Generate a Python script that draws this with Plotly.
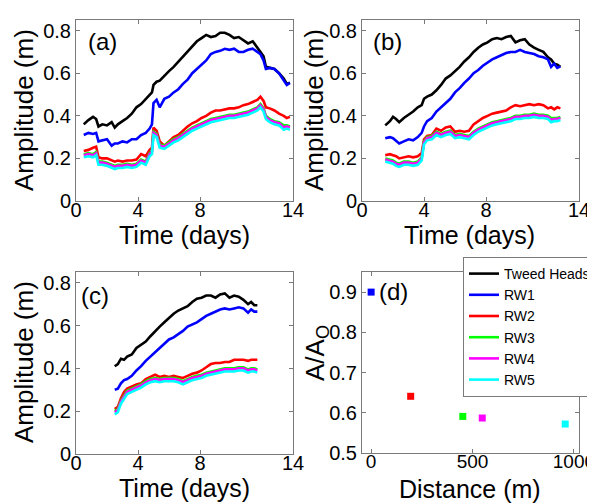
import plotly.graph_objects as go

# ---------------- data ----------------
series_names = ["Tweed Heads", "RW1", "RW2", "RW3", "RW4", "RW5"]
series_colors = ["#000000", "#0000ff", "#ff0000", "#00ff00", "#ff00ff", "#00ffff"]

# panel (a)
days_a = [0.5, 0.8, 1.1, 1.3, 1.45, 1.7, 2.0, 2.3, 2.5, 2.7, 3.0, 3.3, 3.6, 3.9, 4.2, 4.5, 4.75, 4.9, 5.0, 5.2,
          5.4, 5.7, 6.0, 6.3, 6.6, 6.9, 7.2, 7.5, 7.8, 8.1, 8.4, 8.7, 9.0, 9.3, 9.6, 9.9, 10.2, 10.5, 10.8, 11.1,
          11.4, 11.7, 11.9, 12.1, 12.25, 12.5, 12.8, 13.1, 13.4, 13.6, 13.8]
tweed_a = [0.36, 0.38, 0.395, 0.385, 0.35, 0.36, 0.355, 0.37, 0.345, 0.36, 0.375, 0.39, 0.41, 0.44, 0.455, 0.48, 0.50,
           0.51, 0.545, 0.56, 0.565, 0.59, 0.61, 0.63, 0.655, 0.675, 0.70, 0.73, 0.75, 0.765, 0.78, 0.77, 0.775, 0.79,
           0.79, 0.78, 0.765, 0.77, 0.755, 0.74, 0.75, 0.72, 0.70, 0.68, 0.63, 0.625, 0.62, 0.60, 0.575, 0.55, 0.555]
rw1_a = [0.31, 0.32, 0.315, 0.32, 0.28, 0.285, 0.29, 0.26, 0.27, 0.27, 0.28, 0.275, 0.29, 0.29, 0.31, 0.32, 0.34,
         0.36, 0.46, 0.475, 0.44, 0.48, 0.49, 0.51, 0.525, 0.55, 0.57, 0.60, 0.62, 0.64, 0.66, 0.69, 0.70, 0.705,
         0.715, 0.71, 0.715, 0.70, 0.70, 0.71, 0.715, 0.70, 0.69, 0.66, 0.62, 0.625, 0.62, 0.60, 0.57, 0.545, 0.555]
rw2_a = [0.235, 0.24, 0.25, 0.255, 0.205, 0.20, 0.20, 0.19, 0.185, 0.19, 0.185, 0.19, 0.19, 0.195, 0.22, 0.21, 0.24,
         0.25, 0.345, 0.33, 0.28, 0.26, 0.28, 0.30, 0.31, 0.33, 0.35, 0.365, 0.375, 0.39, 0.40, 0.415, 0.425, 0.425,
         0.43, 0.435, 0.435, 0.44, 0.45, 0.455, 0.465, 0.475, 0.49, 0.47, 0.44, 0.435, 0.425, 0.41, 0.40, 0.39, 0.395]
rw3_a = [0.22, 0.225, 0.22, 0.23, 0.185, 0.185, 0.18, 0.17, 0.165, 0.17, 0.17, 0.175, 0.17, 0.175, 0.195, 0.185,
         0.225, 0.235, 0.325, 0.315, 0.265, 0.26, 0.275, 0.29, 0.30, 0.315, 0.33, 0.345, 0.355, 0.365, 0.375, 0.385,
         0.39, 0.395, 0.40, 0.405, 0.405, 0.41, 0.415, 0.42, 0.43, 0.44, 0.455, 0.435, 0.40, 0.385, 0.375, 0.37,
         0.355, 0.355, 0.35]
rw4_a = [0.215, 0.22, 0.215, 0.225, 0.18, 0.18, 0.175, 0.165, 0.16, 0.165, 0.165, 0.17, 0.165, 0.17, 0.19, 0.18,
         0.22, 0.23, 0.32, 0.31, 0.26, 0.255, 0.27, 0.285, 0.295, 0.31, 0.325, 0.34, 0.35, 0.36, 0.37, 0.38, 0.385,
         0.39, 0.395, 0.40, 0.40, 0.405, 0.41, 0.415, 0.425, 0.435, 0.45, 0.43, 0.395, 0.38, 0.37, 0.365, 0.345,
         0.35, 0.345]
rw5_a = [0.205, 0.21, 0.205, 0.215, 0.17, 0.17, 0.165, 0.155, 0.15, 0.155, 0.155, 0.16, 0.155, 0.16, 0.18, 0.17,
         0.21, 0.22, 0.31, 0.30, 0.25, 0.245, 0.26, 0.275, 0.285, 0.30, 0.315, 0.33, 0.34, 0.35, 0.36, 0.37, 0.375,
         0.38, 0.385, 0.39, 0.39, 0.395, 0.40, 0.405, 0.415, 0.425, 0.44, 0.42, 0.385, 0.37, 0.36, 0.355, 0.335,
         0.34, 0.335]

# panel (b)
days_b = [1.5, 1.8, 2.0, 2.2, 2.4, 2.7, 3.0, 3.3, 3.6, 3.85, 4.0, 4.2, 4.5, 4.8, 5.1, 5.4, 5.7, 6.0, 6.3, 6.6, 6.9,
          7.2, 7.5, 7.8, 8.1, 8.4, 8.7, 9.0, 9.3, 9.6, 9.9, 10.2, 10.5, 10.8, 11.1, 11.4, 11.7, 12.0, 12.2, 12.4,
          12.6, 12.8]
tweed_b = [0.355, 0.375, 0.395, 0.385, 0.37, 0.39, 0.405, 0.42, 0.44, 0.45, 0.48, 0.49, 0.50, 0.52, 0.545, 0.575,
           0.59, 0.61, 0.63, 0.655, 0.675, 0.70, 0.72, 0.735, 0.745, 0.76, 0.765, 0.76, 0.77, 0.775, 0.745, 0.755,
           0.76, 0.735, 0.72, 0.71, 0.70, 0.675, 0.665, 0.645, 0.64, 0.63]
rw1_b = [0.295, 0.30, 0.295, 0.28, 0.27, 0.28, 0.29, 0.285, 0.30, 0.32, 0.35, 0.375, 0.39, 0.42, 0.44, 0.46, 0.48,
         0.51, 0.53, 0.555, 0.575, 0.60, 0.615, 0.635, 0.65, 0.665, 0.675, 0.685, 0.695, 0.70, 0.70, 0.71, 0.70,
         0.695, 0.69, 0.68, 0.675, 0.665, 0.63, 0.645, 0.625, 0.632]
rw2_b = [0.215, 0.22, 0.215, 0.21, 0.20, 0.205, 0.21, 0.205, 0.21, 0.225, 0.29, 0.305, 0.31, 0.34, 0.33, 0.345,
         0.35, 0.325, 0.33, 0.325, 0.33, 0.36, 0.375, 0.39, 0.40, 0.41, 0.415, 0.42, 0.425, 0.44, 0.45, 0.445, 0.45,
         0.455, 0.45, 0.455, 0.45, 0.435, 0.44, 0.43, 0.44, 0.435]
rw3_b = [0.20, 0.195, 0.19, 0.18, 0.175, 0.185, 0.185, 0.18, 0.185, 0.205, 0.28, 0.30, 0.305, 0.325, 0.315, 0.325,
         0.33, 0.31, 0.315, 0.31, 0.305, 0.325, 0.34, 0.35, 0.36, 0.37, 0.375, 0.38, 0.385, 0.39, 0.40, 0.40, 0.405,
         0.405, 0.41, 0.405, 0.405, 0.40, 0.39, 0.39, 0.39, 0.395]
rw4_b = [0.195, 0.19, 0.185, 0.175, 0.17, 0.18, 0.18, 0.175, 0.18, 0.20, 0.275, 0.295, 0.30, 0.32, 0.31, 0.32,
         0.325, 0.305, 0.31, 0.305, 0.30, 0.32, 0.335, 0.345, 0.355, 0.365, 0.37, 0.375, 0.38, 0.385, 0.395, 0.395,
         0.40, 0.40, 0.405, 0.40, 0.40, 0.395, 0.38, 0.385, 0.385, 0.39]
rw5_b = [0.185, 0.18, 0.175, 0.165, 0.16, 0.17, 0.17, 0.165, 0.17, 0.19, 0.265, 0.285, 0.29, 0.31, 0.30, 0.31,
         0.315, 0.295, 0.30, 0.295, 0.29, 0.31, 0.325, 0.335, 0.345, 0.355, 0.36, 0.365, 0.37, 0.375, 0.385, 0.385,
         0.39, 0.39, 0.395, 0.39, 0.39, 0.385, 0.37, 0.375, 0.375, 0.38]

# panel (c)
days_c = [2.5, 2.7, 2.9, 3.1, 3.3, 3.6, 3.9, 4.2, 4.5, 4.8, 5.1, 5.4, 5.7, 6.0, 6.3, 6.6, 6.9, 7.2, 7.5, 7.8, 8.1,
          8.4, 8.7, 9.0, 9.3, 9.6, 9.9, 10.2, 10.5, 10.8, 11.1, 11.3, 11.5, 11.7]
tweed_c = [0.41, 0.42, 0.445, 0.44, 0.455, 0.465, 0.495, 0.51, 0.525, 0.55, 0.575, 0.595, 0.615, 0.635, 0.655, 0.67,
           0.68, 0.69, 0.71, 0.725, 0.73, 0.74, 0.74, 0.73, 0.745, 0.75, 0.73, 0.74, 0.735, 0.72, 0.70, 0.71, 0.695,
           0.695]
rw1_c = [0.30, 0.305, 0.33, 0.345, 0.35, 0.365, 0.39, 0.41, 0.435, 0.455, 0.475, 0.495, 0.515, 0.535, 0.545, 0.56,
         0.575, 0.595, 0.605, 0.615, 0.63, 0.645, 0.655, 0.665, 0.675, 0.68, 0.675, 0.68, 0.685, 0.68, 0.66, 0.675,
         0.665, 0.665]
rw2_c = [0.21, 0.22, 0.26, 0.29, 0.305, 0.315, 0.325, 0.33, 0.35, 0.36, 0.37, 0.36, 0.365, 0.36, 0.365, 0.36, 0.355,
         0.365, 0.375, 0.38, 0.39, 0.405, 0.42, 0.425, 0.425, 0.43, 0.43, 0.44, 0.44, 0.44, 0.435, 0.44, 0.44, 0.44]
rw3_c = [0.20, 0.21, 0.25, 0.275, 0.295, 0.305, 0.315, 0.325, 0.34, 0.35, 0.355, 0.35, 0.355, 0.355, 0.355, 0.35,
         0.34, 0.35, 0.36, 0.365, 0.37, 0.38, 0.385, 0.39, 0.395, 0.40, 0.40, 0.40, 0.405, 0.405, 0.395, 0.40, 0.40,
         0.395]
rw4_c = [0.195, 0.205, 0.245, 0.27, 0.29, 0.30, 0.31, 0.32, 0.335, 0.345, 0.35, 0.345, 0.35, 0.35, 0.35, 0.345,
         0.335, 0.345, 0.355, 0.36, 0.365, 0.375, 0.38, 0.385, 0.39, 0.395, 0.395, 0.395, 0.40, 0.40, 0.39, 0.395,
         0.395, 0.39]
rw5_c = [0.185, 0.195, 0.235, 0.26, 0.28, 0.29, 0.30, 0.31, 0.325, 0.335, 0.34, 0.335, 0.34, 0.34, 0.34, 0.335,
         0.325, 0.335, 0.345, 0.35, 0.355, 0.365, 0.37, 0.375, 0.38, 0.385, 0.385, 0.385, 0.39, 0.39, 0.38, 0.385,
         0.385, 0.38]

# panel (d)
well_names = ["RW1", "RW2", "RW3", "RW4", "RW5"]
distance_m = [0, 195, 452, 548, 957]
amp_ratio = [0.90, 0.641, 0.591, 0.587, 0.572]
well_colors = ["#0000ff", "#ff0000", "#00ff00", "#ff00ff", "#00ffff"]

time_ticks = [0, 4, 8, 14]
amp_ticks = [0, 0.2, 0.4, 0.6, 0.8]
amp_ticklabels = ["0", "0.2", "0.4", "0.6", "0.8"]
dist_ticks = [0, 500, 1000]
ratio_ticks = [0.5, 0.6, 0.7, 0.8, 0.9]
ratio_ticklabels = ["0.5", "0.6", "0.7", "0.8", "0.9"]

panels = [
    ("x", "y", days_a, [tweed_a, rw1_a, rw2_a, rw3_a, rw4_a, rw5_a]),
    ("x2", "y2", days_b, [tweed_b, rw1_b, rw2_b, rw3_b, rw4_b, rw5_b]),
    ("x3", "y3", days_c, [tweed_c, rw1_c, rw2_c, rw3_c, rw4_c, rw5_c]),
]

# ---------------- figure ----------------
W, H = 595, 504
FONT = "Liberation Sans, Arial, sans-serif"
AX_COL = "#7a7a7a"

fig = go.Figure()
for pi, (xa, ya, days, ser) in enumerate(panels):
    for si, vals in enumerate(ser):
        fig.add_trace(go.Scatter(
            x=days, y=vals, mode="lines", xaxis=xa, yaxis=ya,
            name=series_names[si], legendgroup=series_names[si],
            showlegend=(pi == 0),
            line=dict(color=series_colors[si], width=2.6),
        ))

for i in range(len(distance_m)):
    fig.add_trace(go.Scatter(
        x=[distance_m[i]], y=[amp_ratio[i]], mode="markers", xaxis="x4", yaxis="y4",
        showlegend=False, name=well_names[i],
        marker=dict(symbol="square", size=7, color=well_colors[i]),
    ))


def px_x(p):
    return p / W


def px_y(p):
    return 1 - p / H


def ax_common(**kw):
    d = dict(showline=True, linecolor=AX_COL, linewidth=1, mirror="ticks",
             ticks="inside", ticklen=4, tickcolor=AX_COL, showgrid=False, zeroline=False,
             tickfont=dict(size=20, color="black", family=FONT), automargin=False)
    d.update(kw)
    return d


dom_x_left = [px_x(68), px_x(285)]
dom_x_right = [px_x(354), px_x(571)]
dom_y_top = [px_y(193), px_y(12)]
dom_y_bot = [px_y(446), px_y(264)]

time_ax = dict(range=[0, 14], tickvals=time_ticks, ticklabelstandoff=-9)
amp_ax = dict(range=[0, 0.85], tickvals=amp_ticks, ticktext=amp_ticklabels)

fig.update_layout(
    width=W, height=H,
    margin=dict(l=0, r=0, t=0, b=0),
    paper_bgcolor="white", plot_bgcolor="white",
    font=dict(family=FONT, color="black"),
    xaxis=ax_common(domain=dom_x_left, anchor="y", **time_ax),
    yaxis=ax_common(domain=dom_y_top, anchor="x", **amp_ax),
    xaxis2=ax_common(domain=dom_x_right, anchor="y2", **time_ax),
    yaxis2=ax_common(domain=dom_y_top, anchor="x2", **amp_ax),
    xaxis3=ax_common(domain=dom_x_left, anchor="y3", **time_ax),
    yaxis3=ax_common(domain=dom_y_bot, anchor="x3", **amp_ax),
    xaxis4=ax_common(domain=dom_x_right, anchor="y4", range=[-45, 1025], tickvals=dist_ticks,
                     ticklabelstandoff=-9, tickfont=dict(size=19, color="black", family=FONT)),
    yaxis4=ax_common(domain=[px_y(445), px_y(264)], anchor="x4", range=[0.5, 0.95], tickvals=ratio_ticks,
                     ticktext=ratio_ticklabels),
    legend=dict(x=px_x(455), y=px_y(249), xanchor="left", yanchor="top",
                bgcolor="white", bordercolor=AX_COL, borderwidth=1,
                font=dict(size=14, family=FONT, color="black"),
                itemwidth=30, tracegroupgap=0),
)

annots = [
    ("Time (days)", 176, 227, 0, 25),
    ("Time (days)", 461, 227, 0, 25),
    ("Time (days)", 176, 480, 0, 25),
    ("Distance (m)", 462, 481, 0, 25),
    ("Amplitude (m)", 16, 102, -90, 26),
    ("Amplitude (m)", 306, 102, -90, 26),
    ("Amplitude (m)", 16, 354, -90, 26),
    ("A/A<sub>O</sub>", 308, 345, -90, 26),
    ("(a)", 95, 34, 0, 24),
    ("(b)", 379, 34, 0, 24),
    ("(c)", 87, 287, 0, 24),
    ("(d)", 385, 283, 0, 24),
]
for txt, x, y, ang, sz in annots:
    fig.add_annotation(text=txt, x=px_x(x), y=px_y(y), xref="paper", yref="paper",
                       showarrow=False, textangle=ang, xanchor="center", yanchor="middle",
                       font=dict(size=sz, family=FONT, color="black"))

fig.write_html("out.html")
